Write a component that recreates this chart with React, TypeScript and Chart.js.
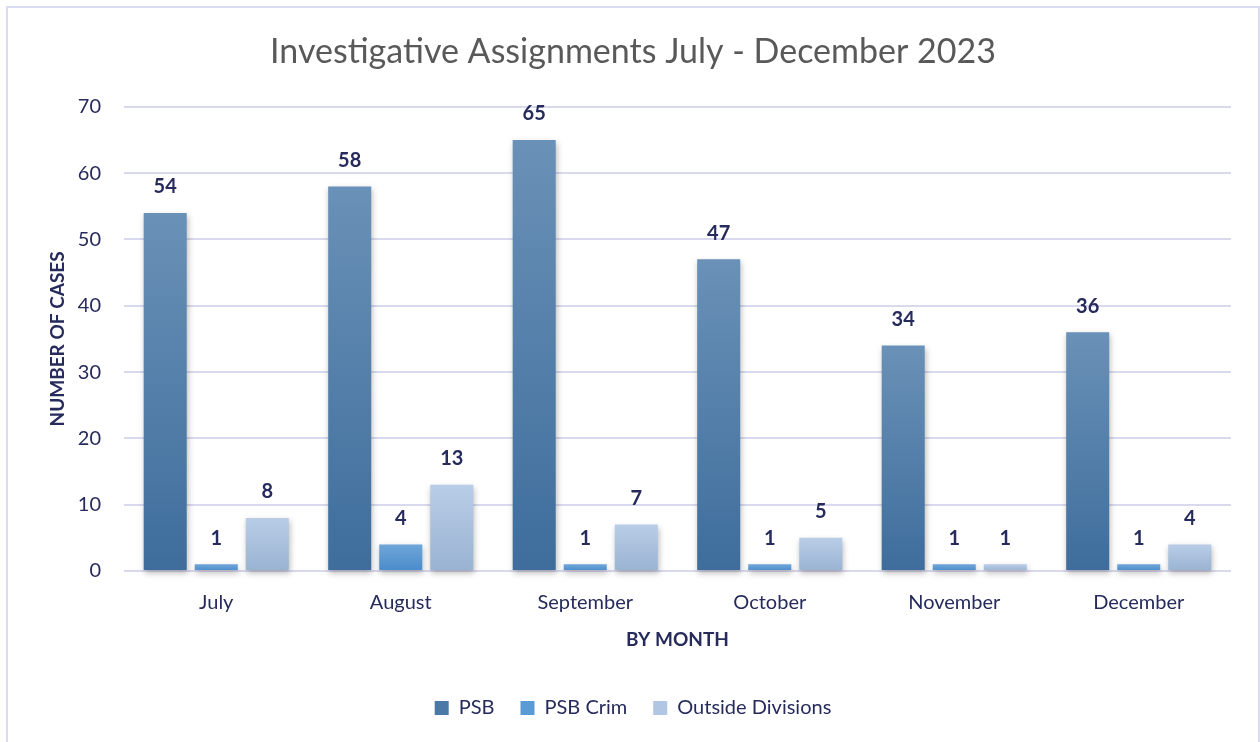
import React, { useEffect, useRef } from "react";
import { Chart, registerables } from "chart.js";

Chart.register(...registerables);

// Monthly investigative assignment counts
const months = ["July", "August", "September", "October", "November", "December"];
const psb = [54, 58, 65, 47, 34, 36];
const psbCrim = [1, 4, 1, 1, 1, 1];
const outsideDivisions = [8, 13, 7, 5, 1, 4];
const seriesNames = ["PSB", "PSB Crim", "Outside Divisions"];

const yMax = 70;
const yStep = 10;

const NAVY = "#262b5c";
const FONT = "Lato, 'Open Sans', sans-serif";

// [top, bottom] colours of each series' vertical gradient
const gradientStops: [string, string][] = [
  ["#6a91b7", "#3e6d9c"],
  ["#6fa6d9", "#4a8bcb"],
  ["#b9cde7", "#99b3d2"],
];
const legendColors = ["#4a79a7", "#5b9bd5", "#b1c6e3"];

const barGradient = (stops: [string, string]) => (ctx: any) => {
  const chart = ctx.chart;
  const y = chart.scales && chart.scales.y;
  if (ctx.type !== "data" || !y || !chart.chartArea) return stops[1];
  const v = typeof ctx.raw === "number" ? ctx.raw : 0;
  const top = y.getPixelForValue(v);
  const bottom = y.getPixelForValue(0);
  if (!isFinite(top) || !isFinite(bottom) || top === bottom) return stops[1];
  const g = chart.ctx.createLinearGradient(0, top, 0, bottom);
  g.addColorStop(0, stops[0]);
  g.addColorStop(1, stops[1]);
  return g;
};

// Soft drop shadow under the bars
const barShadow = {
  id: "barShadow",
  beforeDatasetsDraw(chart: any) {
    const c = chart.ctx;
    c.save();
    c.shadowColor = "rgba(0,0,0,0.28)";
    c.shadowBlur = 6;
    c.shadowOffsetX = 1;
    c.shadowOffsetY = 3;
  },
  afterDatasetsDraw(chart: any) {
    chart.ctx.restore();
  },
};

// Bold value labels above each bar
const valueLabels = {
  id: "valueLabels",
  afterDatasetsDraw(chart: any) {
    const c = chart.ctx;
    c.save();
    c.font = `bold 20px ${FONT}`;
    c.fillStyle = NAVY;
    c.textAlign = "center";
    c.textBaseline = "middle";
    chart.data.datasets.forEach((ds: any, i: number) => {
      const meta = chart.getDatasetMeta(i);
      meta.data.forEach((bar: any, j: number) => {
        c.fillText(String(ds.data[j]), bar.x, bar.y - 26);
      });
    });
    c.restore();
  },
};

export default function App() {
  const canvasRef = useRef<HTMLCanvasElement | null>(null);

  useEffect(() => {
    if (!canvasRef.current) return;
    const seriesData = [psb, psbCrim, outsideDivisions];
    const chart = new Chart(canvasRef.current, {
      type: "bar",
      data: {
        labels: months,
        datasets: seriesData.map((d, i) => ({
          label: seriesNames[i],
          data: d,
          backgroundColor: barGradient(gradientStops[i]),
          borderWidth: 0,
          barPercentage: 0.843,
          categoryPercentage: 0.83,
          clip: false as any,
        })),
      },
      options: {
        responsive: false,
        animation: false,
        layout: { padding: { left: 0, right: 0, top: 0, bottom: 14 } },
        plugins: {
          title: {
            display: true,
            text: "Investigative Assignments July - December 2023",
            color: "#595959",
            font: { family: FONT, size: 34, weight: "normal" as any },
            padding: { top: 24, bottom: 34 },
          },
          legend: {
            position: "bottom",
            labels: {
              boxWidth: 14,
              boxHeight: 14,
              padding: 26,
              color: NAVY,
              font: { family: FONT, size: 20 },
              generateLabels: (ch: any) =>
                ch.data.datasets.map((ds: any, i: number) => ({
                  text: ds.label,
                  fillStyle: legendColors[i],
                  strokeStyle: legendColors[i],
                  lineWidth: 0,
                  hidden: false,
                  datasetIndex: i,
                  fontColor: NAVY,
                })),
            },
          },
          tooltip: { enabled: false },
        },
        scales: {
          x: {
            grid: { display: false },
            border: { display: false },
            ticks: { color: NAVY, font: { family: FONT, size: 20 }, padding: 12 },
            title: {
              display: true,
              text: "BY MONTH",
              color: NAVY,
              font: { family: FONT, size: 19, weight: "bold" as any },
              padding: { top: 0, bottom: 21 },
            },
            afterFit: (s: any) => {
              s.height = 101;
            },
          },
          y: {
            min: 0,
            max: yMax,
            ticks: { stepSize: yStep, color: NAVY, font: { family: FONT, size: 20 }, padding: 23 },
            grid: { color: "#d9d9ee", lineWidth: 2, drawTicks: false },
            border: { display: false },
            title: {
              display: true,
              text: "NUMBER OF CASES",
              color: NAVY,
              font: { family: FONT, size: 19, weight: "bold" as any },
              padding: { top: 38, bottom: 0 },
            },
            afterFit: (s: any) => {
              s.width = 116;
            },
          },
          yRight: {
            type: "linear",
            position: "right",
            display: true,
            grid: { display: false },
            border: { display: false },
            ticks: { display: false },
            afterFit: (s: any) => {
              s.width = 27;
            },
          },
        },
      },
      plugins: [barShadow, valueLabels],
    });
    return () => chart.destroy();
  }, []);

  return (
    <div
      style={{
        position: "absolute",
        left: 6,
        top: 6,
        width: 1254,
        height: 760,
        border: "2px solid #d9dbf0",
        boxSizing: "border-box",
        background: "#ffffff",
      }}
    >
      <canvas ref={canvasRef} width={1250} height={734} style={{ display: "block" }} />
    </div>
  );
}
